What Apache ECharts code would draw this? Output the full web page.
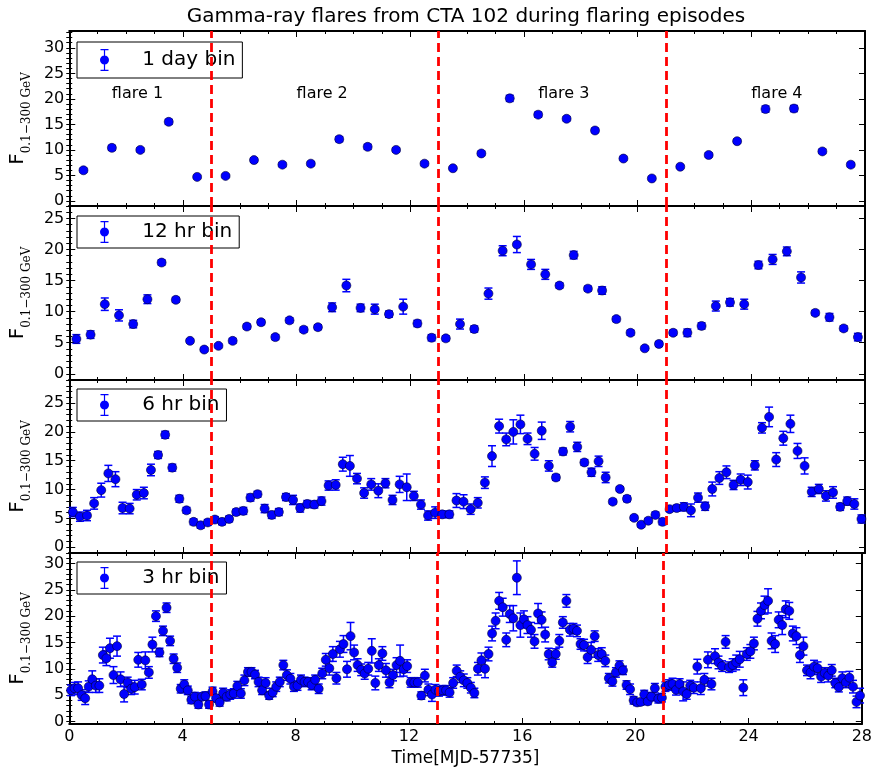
<!DOCTYPE html>
<html>
<head>
<meta charset="utf-8">
<script src="https://cdn.jsdelivr.net/npm/echarts@6/dist/echarts.min.js"></script>
<style>
  html, body { margin: 0; padding: 0; background: #fff; }
  #chart { width: 875px; height: 770px; }
</style>
</head>
<body>
<div id="chart"></div>
<script>
// light curves of CTA 102, flux in 1e-6 ph/cm2/s
const binNames = ['1 day bin', '12 hr bin', '6 hr bin', '3 hr bin']
const binWidths = [1, 0.5, 0.25, 0.125]

const flux1d = [6.0, 10.4, 10.0, 15.5, 4.7, 4.9, 8.0, 7.1, 7.3, 12.1, 10.6, 10.0, 7.3, 6.4,
  9.3, 20.1, 16.9, 16.1, 13.8, 8.3, 4.4, 6.7, 9.0, 11.7, 18.0, 18.1, 9.7, 7.1]
const err1d = [0.4, 0.5, 0.4, 0.5, 0.3, 0.3, 0.4, 0.4, 0.4, 0.5, 0.5, 0.4, 0.4, 0.3,
  0.4, 0.6, 0.5, 0.4, 0.4, 0.3, 0.3, 0.3, 0.4, 0.4, 0.6, 0.6, 0.4, 0.4]

const flux12h = [5.6, 6.3, 11.2, 9.4, 8.0, 12.0, 17.9, 11.9, 5.3, 3.9, 4.5, 5.3, 7.6, 8.3,
  5.9, 8.6, 7.1, 7.5, 10.7, 14.2, 10.6, 10.4, 9.6, 10.8, 8.1, 5.8, 5.7, 8.0,
  7.2, 12.9, 19.8, 20.8, 17.6, 16.0, 14.2, 19.1, 13.7, 13.4, 8.8, 6.6, 4.1, 4.8,
  6.6, 6.6, 7.7, 10.9, 11.5, 11.2, 17.5, 18.4, 19.7, 15.5, 9.8, 9.1, 7.3, 5.9]
const err12h = [0.7, 0.6, 1.0, 0.9, 0.6, 0.7, 0.4, 0.4, 0.3, 0.3, 0.3, 0.4, 0.4, 0.4,
  0.4, 0.4, 0.4, 0.4, 0.7, 1.0, 0.6, 0.8, 0.5, 1.2, 0.5, 0.5, 0.4, 0.8,
  0.5, 0.9, 0.8, 1.3, 0.8, 0.8, 0.4, 0.6, 0.4, 0.6, 0.4, 0.4, 0.3, 0.4,
  0.4, 0.6, 0.5, 0.8, 0.6, 0.8, 0.6, 0.8, 0.7, 0.9, 0.4, 0.6, 0.4, 0.6]

const flux6h = [6.1, 5.3, 5.5, 7.6, 9.9, 12.8, 11.8, 6.8, 6.7, 9.1,
  9.4, 13.4, 16.0, 19.5, 13.8, 8.4, 6.4, 4.4, 3.8, 4.3,
  4.8, 4.4, 4.9, 6.1, 6.3, 8.6, 9.2, 6.7, 5.6, 6.1,
  8.7, 8.2, 6.8, 7.5, 7.4, 8.0, 10.7, 10.8, 14.4, 14.1,
  11.9, 9.4, 10.9, 9.8, 11.1, 8.2, 10.9, 10.4, 8.9, 7.4,
  5.5, 6.0, 5.7, 5.7, 8.1, 7.9, 6.6, 7.7, 11.2, 15.8,
  21.0, 18.7, 20.0, 21.3, 18.8, 16.2, 20.2, 14.1, 12.1, 16.6,
  20.9, 17.4, 14.7, 13.0, 14.9, 12.1, 7.9, 10.1, 8.4, 5.1,
  3.9, 4.6, 5.6, 4.4, 6.6, 6.8, 7.0, 6.4, 8.6, 7.1,
  10.1, 12.0, 13.0, 10.8, 11.7, 11.3, 14.2, 20.7, 22.6, 15.2,
  18.9, 21.4, 16.7, 14.1, 9.6, 10.1, 8.9, 9.5, 7.0, 8.0,
  7.5, 4.9]
const err6h = [0.8, 0.8, 0.9, 1.0, 1.2, 1.4, 1.3, 1.0, 0.9, 0.9,
  1.0, 1.0, 0.6, 0.6, 0.6, 0.6, 0.5, 0.5, 0.5, 0.5,
  0.5, 0.5, 0.5, 0.5, 0.6, 0.6, 0.5, 0.7, 0.6, 0.6,
  0.6, 0.8, 0.7, 0.6, 0.6, 0.7, 0.8, 0.9, 1.2, 1.8,
  0.9, 0.9, 1.0, 1.2, 0.8, 0.8, 1.4, 2.3, 0.8, 0.8,
  0.8, 1.0, 0.6, 0.6, 1.2, 1.2, 0.9, 0.9, 1.0, 1.8,
  1.2, 1.1, 2.1, 1.6, 1.0, 1.1, 1.5, 0.9, 0.5, 0.6,
  0.9, 0.8, 0.5, 0.7, 0.9, 0.9, 0.4, 0.4, 0.5, 0.4,
  0.4, 0.4, 0.5, 0.5, 0.4, 0.5, 0.7, 1.1, 0.8, 0.7,
  1.2, 1.1, 1.1, 0.8, 1.0, 1.2, 0.8, 0.9, 1.7, 1.2,
  1.2, 1.5, 1.3, 1.4, 0.8, 0.8, 0.9, 1.0, 0.6, 0.7,
  0.9, 0.7]

const flux3h = [5.9, 6.3, 6.3, 5.0, 4.4, 6.6, 8.0, 6.8, 6.8, 12.6,
  12.0, 13.9, 8.8, 14.3, 8.0, 5.2, 7.4, 6.2, 6.5, 11.7,
  7.0, 11.6, 9.3, 14.6, 20.0, 13.1, 17.2, 21.6, 15.3, 11.9,
  10.2, 6.2, 7.0, 5.9, 4.1, 4.7, 3.2, 4.7, 4.8, 3.2,
  5.7, 4.4, 3.6, 5.4, 4.7, 5.1, 5.3, 6.7, 5.3, 7.8,
  9.4, 9.4, 8.9, 7.5, 5.9, 7.3, 4.9, 5.5, 6.6, 7.5,
  10.7, 8.8, 8.1, 6.6, 6.8, 7.9, 7.5, 7.5, 6.9, 7.9,
  6.2, 9.1, 11.7, 10.1, 12.8, 8.2, 13.7, 14.7, 9.9, 16.2,
  13.1, 10.7, 9.8, 9.1, 10.0, 13.4, 7.3, 10.7, 12.9, 9.7,
  7.4, 8.8, 10.7, 11.5, 9.9, 10.5, 7.4, 7.4, 7.4, 4.9,
  8.7, 6.0, 5.1, 6.0, 5.7, 5.9, 5.9, 5.5, 7.3, 9.6,
  8.5, 7.8, 7.3, 6.4, 5.4, 10.0, 11.6, 10.0, 12.8, 16.7,
  19.1, 22.9, 21.7, 15.5, 20.4, 19.6, 27.3, 18.3, 19.4, 18.3,
  17.4, 15.2, 20.5, 19.3, 16.5, 12.8, 11.2, 12.8, 15.3, 18.8,
  22.9, 17.4, 17.6, 17.2, 14.7, 14.5, 12.2, 13.6, 16.2, 12.6,
  12.8, 11.5, 8.2, 7.6, 9.3, 10.6, 9.7, 6.9, 6.1, 4.0,
  3.6, 3.7, 5.1, 3.8, 4.7, 6.3, 4.3, 4.5, 6.6, 6.9,
  7.1, 6.0, 7.1, 5.7, 5.2, 6.8, 6.4, 10.4, 6.3, 7.9,
  11.7, 7.1, 12.4, 11.2, 10.5, 15.1, 10.3, 10.7, 11.2, 11.8,
  6.4, 12.8, 13.3, 14.8, 19.5, 21.0, 22.1, 22.9, 15.3, 14.7,
  19.3, 18.3, 21.3, 21.0, 16.7, 16.2, 12.6, 14.3, 9.7, 9.3,
  10.4, 10.1, 8.5, 9.2, 8.7, 9.7, 7.3, 6.5, 8.2, 7.4,
  8.3, 6.6, 3.7, 4.9]
const err3h = [1.0, 1.1, 1.2, 1.0, 1.2, 1.1, 1.6, 1.3, 1.3, 1.5,
  1.4, 1.9, 1.6, 1.9, 1.4, 1.5, 1.0, 1.1, 1.3, 1.4,
  1.0, 1.6, 1.1, 1.4, 1.0, 0.8, 0.9, 0.9, 0.9, 0.9,
  0.9, 0.8, 0.9, 0.8, 0.7, 0.8, 0.7, 0.7, 0.8, 0.7,
  0.8, 0.7, 0.7, 0.9, 0.8, 0.9, 0.9, 0.9, 0.9, 1.0,
  0.8, 0.8, 0.8, 0.9, 0.8, 1.0, 0.7, 0.8, 0.9, 0.9,
  0.9, 1.0, 1.0, 0.9, 0.9, 0.9, 0.9, 0.8, 0.9, 0.9,
  0.9, 1.0, 1.2, 1.3, 1.4, 1.1, 1.5, 1.6, 1.5, 2.6,
  1.4, 1.2, 1.1, 1.1, 1.2, 2.3, 1.3, 1.2, 1.3, 1.3,
  1.0, 1.1, 1.4, 3.0, 1.3, 1.2, 0.9, 0.9, 0.9, 0.7,
  1.2, 1.1, 1.3, 1.0, 0.9, 0.9, 0.9, 0.9, 1.0, 1.1,
  1.1, 1.2, 1.0, 1.0, 0.9, 1.2, 1.4, 1.7, 1.3, 1.4,
  1.5, 1.6, 1.7, 1.3, 1.6, 2.4, 3.2, 2.3, 1.6, 1.6,
  1.4, 1.3, 1.9, 1.5, 1.4, 1.1, 0.9, 1.0, 1.2, 1.1,
  1.2, 1.2, 1.0, 1.1, 1.0, 1.1, 1.2, 1.4, 1.0, 1.2,
  1.2, 1.1, 0.9, 0.9, 0.9, 0.9, 0.8, 0.8, 1.0, 0.7,
  0.6, 0.6, 0.8, 0.6, 0.8, 0.9, 0.8, 0.8, 0.9, 1.0,
  1.1, 1.0, 1.0, 1.8, 1.0, 1.0, 1.1, 1.4, 1.2, 1.2,
  1.5, 1.1, 1.4, 1.2, 1.0, 1.2, 1.0, 1.2, 1.4, 1.5,
  1.5, 1.2, 1.3, 1.2, 1.4, 1.5, 1.7, 2.3, 1.5, 1.6,
  1.5, 1.8, 1.6, 1.6, 1.4, 1.6, 1.4, 1.7, 1.0, 1.2,
  1.2, 1.2, 1.1, 1.0, 1.2, 1.1, 0.9, 0.9, 1.2, 1.0,
  1.2, 1.2, 1.1, 1.4]

const fluxes = [flux1d, flux12h, flux6h, flux3h]
const errors = [err1d, err12h, err6h, err3h]

// episode boundaries and labels
const flareBounds = [5, 13, 21]
const flareLabels = ['flare 1', 'flare 2', 'flare 3', 'flare 4']
const flareX = [2.4, 8.9, 17.4, 24.9]
const flareY = [21, 21, 21, 21]

const xTicks = [0, 4, 8, 12, 16, 20, 24, 28]
const yRanges = [[-1, 33.3], [-1, 27], [-1, 29], [-0.5, 32]]
const yTicks = [
  [0, 5, 10, 15, 20, 25, 30],
  [0, 5, 10, 15, 20, 25],
  [0, 5, 10, 15, 20, 25],
  [0, 5, 10, 15, 20, 25, 30]
]

const FONT = 'DejaVu Sans'
const BLUE = '#0000ff'
const panels = [
  { top: 31, height: 175 },
  { top: 206, height: 174 },
  { top: 380, height: 173 },
  { top: 553, height: 171 }
]
const legendTops = [42, 216, 389, 562]

const errIcon = 'path://M1,0H9V1.2H5.6V20.8H9V22H1V20.8H4.4V1.2H1Z M5,6.5A4.5,4.5,0,1,1,4.99,6.5Z'

const myChart = echarts.init(document.getElementById('chart'))

const grid = []
const xAxis = []
const yAxis = []
const series = []
const legend = []

panels.forEach((p, i) => {
  const last = i === panels.length - 1
  grid.push({ left: 66, right: 10, top: p.top, height: p.height })

  // bottom and top x axes (ticks inside)
  ;['bottom', 'top'].forEach(pos => {
    const showLab = last && pos === 'bottom'
    xAxis.push({
      type: 'value', gridIndex: i, position: pos,
      min: xTicks[0], max: xTicks[xTicks.length - 1], interval: 4,
      axisLine: { show: true, onZero: false, lineStyle: { color: '#000', width: 2 } },
      axisTick: { show: true, inside: true, length: 6, lineStyle: { color: '#000', width: 1 } },
      minorTick: { show: true, splitNumber: 4, length: 3, lineStyle: { color: '#000', width: 1 } },
      axisLabel: { show: showLab, color: '#000', fontSize: 16, fontFamily: FONT, margin: 5 },
      splitLine: { show: false },
      name: showLab ? 'Time[MJD-57735]' : '',
      nameLocation: 'middle', nameGap: 26,
      nameTextStyle: { color: '#000', fontSize: 17, fontFamily: FONT }
    })
  })

  // left/right y axes, major + minor ticks each
  const minor = []
  for (let v = Math.ceil(yRanges[i][0]); v <= yRanges[i][1]; v++) minor.push(v)
  ;['left', 'right'].forEach(pos => {
    const main = pos === 'left'
    yAxis.push({
      type: 'value', gridIndex: i, position: pos,
      min: yRanges[i][0], max: yRanges[i][1],
      axisLine: { show: true, onZero: false, lineStyle: { color: '#000', width: 2 } },
      axisTick: { show: true, inside: true, length: 6, customValues: yTicks[i], lineStyle: { color: '#000', width: 1 } },
      axisLabel: { show: main, customValues: yTicks[i], color: '#000', fontSize: 16, fontFamily: FONT, margin: 5 },
      splitLine: { show: false },
      name: main ? '{f|F}{s|0.1\u2212300 GeV}' : '',
      nameLocation: 'middle', nameGap: 30,
      nameTextStyle: {
        rich: {
          f: { fontSize: 20, fontFamily: FONT, color: '#000', lineHeight: 30 },
          s: { fontSize: 12, fontFamily: 'DejaVu Serif', color: '#000', lineHeight: 14, verticalAlign: 'bottom' }
        }
      }
    })
    yAxis.push({
      type: 'value', gridIndex: i, position: pos,
      min: yRanges[i][0], max: yRanges[i][1],
      axisLine: { show: false },
      axisTick: { show: true, inside: true, length: 3, customValues: minor, lineStyle: { color: '#000', width: 1 } },
      axisLabel: { show: false },
      splitLine: { show: false }
    })
  })

  const xs = fluxes[i].map((v, k) => binWidths[i] * (k + 0.5))

  // error bars
  series.push({
    type: 'custom', xAxisIndex: 2 * i, yAxisIndex: 4 * i, silent: true, z: 2,
    data: xs.map((x, k) => [x, fluxes[i][k] - errors[i][k], fluxes[i][k] + errors[i][k]]),
    encode: { x: 0, y: [1, 2] },
    renderItem(params, api) {
      const lo = api.coord([api.value(0), api.value(1)])
      const hi = api.coord([api.value(0), api.value(2)])
      const w = 4
      const style = { stroke: BLUE, lineWidth: 1.5 }
      return {
        type: 'group',
        children: [
          { type: 'line', shape: { x1: lo[0], y1: lo[1], x2: hi[0], y2: hi[1] }, style },
          { type: 'line', shape: { x1: lo[0] - w, y1: lo[1], x2: lo[0] + w, y2: lo[1] }, style },
          { type: 'line', shape: { x1: hi[0] - w, y1: hi[1], x2: hi[0] + w, y2: hi[1] }, style }
        ]
      }
    }
  })

  // points
  series.push({
    name: binNames[i], type: 'scatter', xAxisIndex: 2 * i, yAxisIndex: 4 * i, z: 3,
    symbol: 'circle', symbolSize: 9,
    itemStyle: { color: BLUE, borderColor: '#000033', borderWidth: 0.6, opacity: 1 },
    data: xs.map((x, k) => [x, fluxes[i][k]])
  })

  // episode boundaries
  series.push({
    type: 'line', xAxisIndex: 2 * i, yAxisIndex: 4 * i, z: 10, silent: true, data: [],
    markLine: {
      symbol: ['none', 'none'], silent: true, animation: false,
      label: { show: false },
      lineStyle: { color: '#ff0000', type: [9, 5], width: 2.8 },
      data: flareBounds.map(x => ({ xAxis: x }))
    }
  })

  legend.push({
    data: [binNames[i]], left: 77, top: legendTops[i], selectedMode: false,
    backgroundColor: '#fff', borderColor: '#000', borderWidth: 1, borderRadius: 0,
    padding: i === 0 ? [7, 7, 7, 23] : [5, 7, 5, 23],
    itemWidth: 40, itemHeight: 22, icon: errIcon,
    itemStyle: { borderWidth: 0 },
    formatter: n => '  ' + n,
    textStyle: { fontSize: 20, fontFamily: FONT, color: '#000' }
  })
})

// flare annotations in the top panel
series.push({
  type: 'scatter', xAxisIndex: 0, yAxisIndex: 0, z: 4, silent: true,
  symbolSize: 1, itemStyle: { opacity: 0 },
  data: flareX.map((x, k) => [x, flareY[k], flareLabels[k]]),
  label: {
    show: true, position: 'inside', formatter: p => p.data[2],
    color: '#000', opacity: 1, textBorderWidth: 0, textBorderColor: 'transparent',
    fontSize: 16, fontFamily: FONT
  }
})

myChart.setOption({
  animation: false,
  backgroundColor: '#fff',
  graphic: [{
    type: 'text', x: 466, y: 17,
    style: {
      text: 'Gamma-ray flares from CTA 102 during flaring episodes',
      fontSize: 20, fontFamily: FONT, fill: '#000', align: 'center', verticalAlign: 'middle'
    }
  }],
  legend,
  grid,
  xAxis,
  yAxis,
  series
})
window.addEventListener('resize', function() {
  myChart.resize()
})
</script>
</body>
</html>
